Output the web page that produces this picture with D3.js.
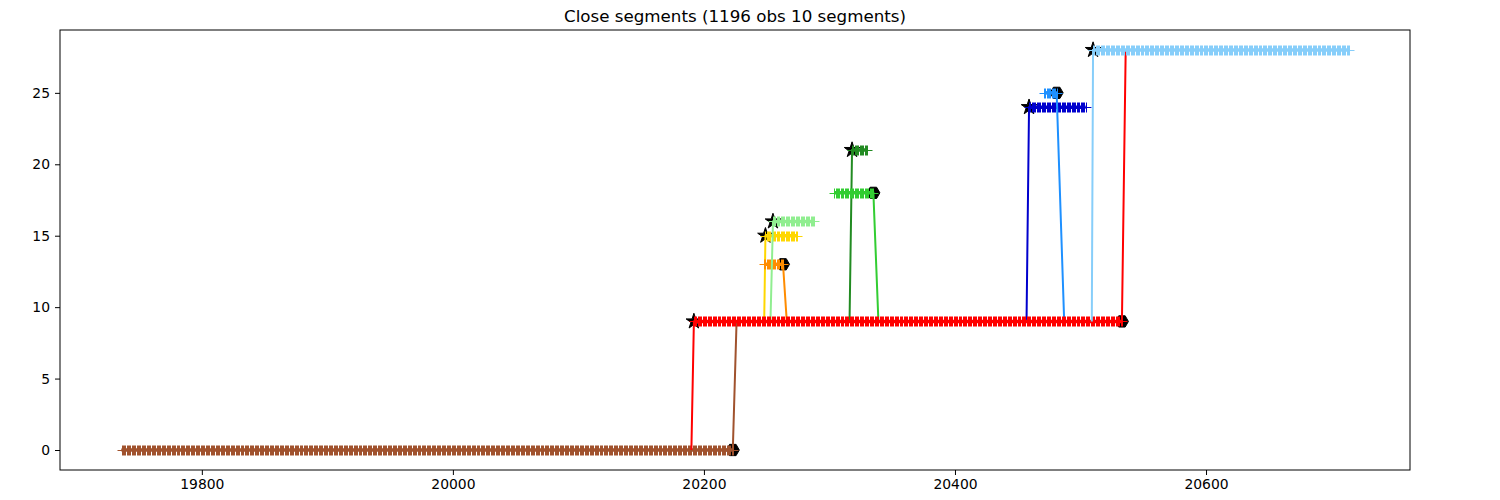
<!DOCTYPE html>
<html>
<head>
<meta charset="utf-8">
<script src="https://cdn.jsdelivr.net/npm/d3@7"></script>
<style>
  html, body { margin: 0; padding: 0; background: #fff; }
  svg { display: block; }
  text { font-family: "DejaVu Sans", sans-serif; }
</style>
</head>
<body>
<svg id="chart" width="1500" height="500"></svg>
<script>
// ---- data ----
const title = "Close segments (1196 obs 10 segments)";
const segNames  = ["s0", "s1", "s2", "s3", "s4", "s5", "s6", "s7", "s8", "s9"];
const segColors = ["#a0522d", "#ff0000", "#ffd700", "#ff8c00", "#90ee90", "#228b22", "#32cd32", "#0000cd", "#1e90ff", "#87cefa"];
const segValues = [0, 9, 15, 13, 16, 21, 18, 24, 25, 28];
const segStarts = [19736, 20192, 20249, 20248, 20255, 20318, 20304, 20459, 20471, 20510];
const segEnds   = [20223, 20533, 20274, 20263, 20288, 20330, 20335, 20504, 20481, 20714];
// observation just before a segment (drawn as connector, marked with a star at segment start)
const prevX = [null, 20190, 20248, null, 20253, 20316, null, 20457, null, 20509];
const prevY = [null, 0, 9, null, 9, 9, null, 9, null, 9];
// observation just after a segment (drawn as connector, marked with a hexagon at segment end)
const nextX = [20226, 20536, null, 20266, null, null, 20339, null, 20487, null];
const nextY = [9, 28, null, 9, null, null, 9, null, 9, null];
const drawOrder = [0, 2, 3, 4, 5, 6, 7, 8, 1, 9];
const xTicks = [19800, 20000, 20200, 20400, 20600];
const yTicks = [0, 5, 10, 15, 20, 25];

// ---- layout ----
const svg = d3.select("#chart");
const L = 60, R = 1410, T = 30, B = 470;
const x = d3.scaleLinear().domain([19687, 20762.5]).range([L, R]);
const y = d3.scaleLinear().domain([-1.4, 29.4]).range([B, T]);

svg.append("text")
  .attr("x", (L + R) / 2).attr("y", 22)
  .attr("text-anchor", "middle")
  .style("font-size", "16.7px")
  .text(title);

const plot = svg.append("g");

// start / end markers (underneath)
const star = d3.symbol().type(d3.symbolStar).size(75);
function hexPath(r) {
  let p = "";
  for (let k = 0; k < 6; k++) {
    const a = k * Math.PI / 3;
    p += (k ? "L" : "M") + (r * Math.cos(a)).toFixed(2) + "," + (r * Math.sin(a)).toFixed(2);
  }
  return p + "Z";
}
segNames.forEach((n, i) => {
  if (prevX[i] !== null) {
    plot.append("path")
      .attr("d", star())
      .attr("transform", `translate(${x(segStarts[i])},${y(segValues[i])})`)
      .attr("fill", "#000").attr("stroke", "#000").attr("stroke-width", 1);
  }
  if (nextX[i] !== null) {
    plot.append("path")
      .attr("d", hexPath(6.5))
      .attr("transform", `translate(${x(segEnds[i])},${y(segValues[i])})`)
      .attr("fill", "#000").attr("stroke", "#000").attr("stroke-width", 1);
  }
});

const line = d3.line().x(d => x(d[0])).y(d => y(d[1]));

drawOrder.forEach(i => {
  const pts = d3.range(segStarts[i], segEnds[i] + 1).map(d => [d, segValues[i]]);
  const full = [];
  if (prevX[i] !== null) full.push([prevX[i], prevY[i]]);
  full.push(...pts);
  if (nextX[i] !== null) full.push([nextX[i], nextY[i]]);
  const g = plot.append("g");
  g.append("path")
    .attr("d", line(full))
    .attr("fill", "none")
    .attr("stroke", segColors[i])
    .attr("stroke-width", 2);
  // '+' markers, snapped to pixel grid like an Agg renderer does
  const h = 5;
  let d = "";
  pts.forEach(p => {
    const px = Math.round(x(p[0])) + 0.5, py = Math.round(y(p[1])) + 0.5;
    d += `M${px - h},${py}H${px + h}M${px},${py - h}V${py + h}`;
  });
  g.append("path")
    .attr("d", d)
    .attr("fill", "none")
    .attr("stroke", segColors[i])
    .attr("stroke-width", 1);
  g.append("path")
    .attr("d", line(pts))
    .attr("fill", "none")
    .attr("stroke", segColors[i])
    .attr("stroke-width", 3.5);
});

// axes
const xAxis = svg.append("g")
  .attr("transform", `translate(0,${B})`)
  .call(d3.axisBottom(x).tickValues(xTicks).tickFormat(d3.format("d")).tickSize(5).tickPadding(4));
const yAxis = svg.append("g")
  .attr("transform", `translate(${L},0)`)
  .call(d3.axisLeft(y).tickValues(yTicks).tickFormat(d3.format("d")).tickSize(5).tickPadding(5));
[xAxis, yAxis].forEach(a => {
  a.select(".domain").remove();
  a.selectAll("text").style("font-size", "13.9px").attr("fill", "#000").style("font-family", "DejaVu Sans");
  a.selectAll("line").attr("stroke", "#000");
});

svg.append("rect")
  .attr("x", L).attr("y", T).attr("width", R - L).attr("height", B - T)
  .attr("fill", "none").attr("stroke", "#000").attr("stroke-width", 1);
</script>
</body>
</html>
